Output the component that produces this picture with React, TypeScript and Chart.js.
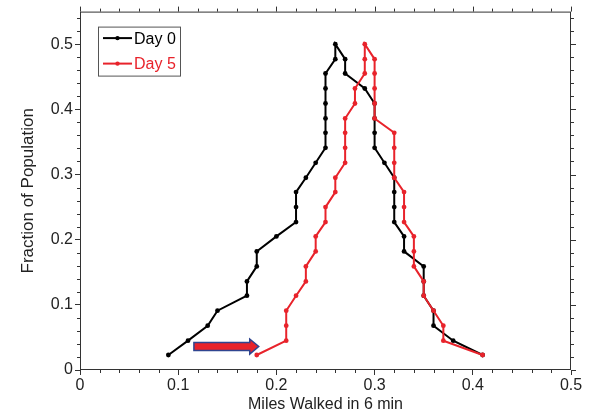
import React, { useEffect, useRef } from "react";
import { Chart, registerables } from "chart.js";

Chart.register(...registerables);

// Fraction-of-population levels (k/44), shared by both series
const fractionLevels = [
  0.023, 0.045, 0.068, 0.091, 0.114, 0.136, 0.159, 0.182, 0.205, 0.227, 0.25,
  0.273, 0.295, 0.318, 0.341, 0.364, 0.386, 0.409, 0.432, 0.455, 0.477, 0.5,
];

// Miles walked, rising side (levels 1..22) and falling side (levels 21..1)
const day0Rising = [
  0.09, 0.11, 0.13, 0.14, 0.17, 0.17, 0.18, 0.18, 0.2, 0.22, 0.22, 0.22, 0.23,
  0.24, 0.25, 0.25, 0.25, 0.25, 0.25, 0.25, 0.26, 0.26,
];
const day0Falling = [
  0.27, 0.27, 0.29, 0.3, 0.3, 0.3, 0.3, 0.31, 0.32, 0.32, 0.32, 0.32, 0.33,
  0.33, 0.35, 0.35, 0.35, 0.36, 0.36, 0.38, 0.41,
];
const day5Rising = [
  0.18, 0.21, 0.21, 0.21, 0.22, 0.23, 0.23, 0.24, 0.24, 0.25, 0.25, 0.26, 0.26,
  0.27, 0.27, 0.27, 0.27, 0.28, 0.28, 0.29, 0.29, 0.29,
];
const day5Falling = [
  0.3, 0.3, 0.3, 0.3, 0.3, 0.32, 0.32, 0.32, 0.32, 0.33, 0.33, 0.33, 0.34,
  0.34, 0.34, 0.35, 0.35, 0.36, 0.37, 0.37, 0.41,
];

const seriesLabels = ["Day 0", "Day 5"];
const seriesColors = ["#000000", "#e8232b"];

const xTickValues = [0, 0.1, 0.2, 0.3, 0.4, 0.5];
const yTickValues = [0, 0.1, 0.2, 0.3, 0.4, 0.5];
const xTitle = "Miles Walked in 6 min";
const yTitle = "Fraction of Population";

// Arrow annotation in data coordinates: [x, y]
const arrowFrom = [0.116, 0.036];
const arrowTo = [0.182, 0.036];

const FONT = "'Liberation Sans', Arial, Helvetica, sans-serif";

function buildSeries(rising: number[], falling: number[]) {
  const pts = rising.map((x, i) => ({ x, y: fractionLevels[i] }));
  falling.forEach((x, i) =>
    pts.push({ x, y: fractionLevels[falling.length - 1 - i] })
  );
  return pts;
}

const decorPlugin = {
  id: "decor",
  afterDraw(chart: any) {
    const { ctx, chartArea } = chart;
    const xs = chart.scales.x;
    const ys = chart.scales.y;
    const { left, right, top, bottom } = chartArea;
    ctx.save();
    ctx.strokeStyle = "#333";
    ctx.lineWidth = 1;
    // frame
    ctx.strokeRect(left + 0.5, top + 0.5, right - left - 1, bottom - top - 1);
    // ticks
    ctx.beginPath();
    const xMax = xs.max;
    for (let k = 0; k * 0.02 <= xMax + 1e-9; k++) {
      const v = k * 0.02;
      const major = k % 5 === 0;
      const len = major ? 5 : 3;
      const px = Math.round(xs.getPixelForValue(v)) + 0.5;
      if (!major) {
        ctx.moveTo(px, bottom);
        ctx.lineTo(px, bottom + len);
      }
      ctx.moveTo(px, top);
      ctx.lineTo(px, top - len);
    }
    const yMax = ys.max;
    for (let k = 0; k * 0.02 <= yMax + 1e-9; k++) {
      const v = k * 0.02;
      const major = k % 5 === 0;
      const len = major ? 5 : 3;
      const py = Math.round(ys.getPixelForValue(v)) + 0.5;
      if (!major) {
        ctx.moveTo(left, py);
        ctx.lineTo(left - len, py);
      }
      ctx.moveTo(right, py);
      ctx.lineTo(right + len, py);
    }
    ctx.stroke();

    // arrow
    const ax0 = xs.getPixelForValue(arrowFrom[0]);
    const ax1 = xs.getPixelForValue(arrowTo[0]);
    const ay = ys.getPixelForValue(arrowFrom[1]);
    const bodyH = 4;
    const headH = 7.5;
    const headL = 9;
    ctx.beginPath();
    ctx.moveTo(ax0, ay - bodyH);
    ctx.lineTo(ax1 - headL, ay - bodyH);
    ctx.lineTo(ax1 - headL, ay - headH);
    ctx.lineTo(ax1, ay);
    ctx.lineTo(ax1 - headL, ay + headH);
    ctx.lineTo(ax1 - headL, ay + bodyH);
    ctx.lineTo(ax0, ay + bodyH);
    ctx.closePath();
    ctx.fillStyle = "#e8232b";
    ctx.fill();
    ctx.strokeStyle = "#2f4590";
    ctx.lineWidth = 1.5;
    ctx.stroke();

    // legend
    const lx = left + 18;
    const ly = top + 15;
    const lw = 82;
    const lh = 49;
    ctx.fillStyle = "#fff";
    ctx.fillRect(lx, ly, lw, lh);
    ctx.strokeStyle = "#555";
    ctx.lineWidth = 1;
    ctx.strokeRect(lx + 0.5, ly + 0.5, lw, lh);
    ctx.font = `16px ${FONT}`;
    ctx.textBaseline = "middle";
    ctx.textAlign = "left";
    seriesLabels.forEach((label, i) => {
      const yy = ly + 11.5 + i * 25.5;
      ctx.strokeStyle = seriesColors[i];
      ctx.lineWidth = 2;
      ctx.beginPath();
      ctx.moveTo(lx + 5, yy);
      ctx.lineTo(lx + 34, yy);
      ctx.stroke();
      ctx.fillStyle = seriesColors[i];
      ctx.beginPath();
      ctx.arc(lx + 19.5, yy, 2.2, 0, Math.PI * 2);
      ctx.fill();
      ctx.fillText(label, lx + 36, yy + 1);
    });
    ctx.restore();
  },
};

export default function App() {
  const canvasRef = useRef<HTMLCanvasElement | null>(null);

  useEffect(() => {
    if (!canvasRef.current) return;
    const series = [
      buildSeries(day0Rising, day0Falling),
      buildSeries(day5Rising, day5Falling),
    ];
    const chart = new Chart(canvasRef.current, {
      type: "line",
      data: {
        datasets: series.map((pts, i) => ({
          label: seriesLabels[i],
          data: pts,
          borderColor: seriesColors[i],
          backgroundColor: seriesColors[i],
          borderWidth: 2,
          pointRadius: 2.4,
          pointBorderWidth: 0,
          pointBackgroundColor: seriesColors[i],
          tension: 0,
          fill: false,
          order: i === 0 ? 1 : 0,
        })),
      },
      options: {
        animation: false,
        responsive: false,
        devicePixelRatio: 1,
        layout: { padding: { left: 0, top: 10, right: 19, bottom: 0 } },
        plugins: {
          legend: { display: false },
          tooltip: { enabled: false },
        },
        scales: {
          x: {
            type: "linear",
            min: 0,
            max: 0.5,
            afterFit: (s: any) => {
              s.height = 44;
            },
            afterBuildTicks: (s: any) => {
              s.ticks = xTickValues.map((v) => ({ value: v }));
            },
            ticks: {
              color: "#222",
              font: { family: FONT, size: 16 },
              padding: 1,
              maxRotation: 0,
              callback: (v: any) => String(v),
            },
            grid: {
              display: true,
              drawOnChartArea: false,
              drawTicks: true,
              tickLength: 5,
              color: "#333",
            },
            border: { display: false },
            title: {
              display: true,
              text: xTitle,
              color: "#222",
              font: { family: FONT, size: 16 },
              padding: { top: 0, bottom: 0 },
            },
          },
          y: {
            type: "linear",
            min: 0,
            max: 0.55,
            afterFit: (s: any) => {
              s.width = 80;
            },
            afterBuildTicks: (s: any) => {
              s.ticks = yTickValues.map((v) => ({ value: v }));
            },
            ticks: {
              color: "#222",
              font: { family: FONT, size: 16 },
              padding: 2,
              callback: (v: any) => String(v),
            },
            grid: {
              display: true,
              drawOnChartArea: false,
              drawTicks: true,
              tickLength: 5,
              color: "#333",
            },
            border: { display: false },
            title: {
              display: true,
              text: yTitle,
              color: "#222",
              font: { family: FONT, size: 17 },
              padding: { top: 18, bottom: 0 },
            },
          },
        },
      },
      plugins: [decorPlugin],
    } as any);
    return () => chart.destroy();
  }, []);

  return (
    <div
      style={{
        position: "absolute",
        left: 0,
        top: 0,
        width: 590,
        height: 414,
        background: "#fff",
      }}
    >
      <canvas ref={canvasRef} width={590} height={414} />
    </div>
  );
}
